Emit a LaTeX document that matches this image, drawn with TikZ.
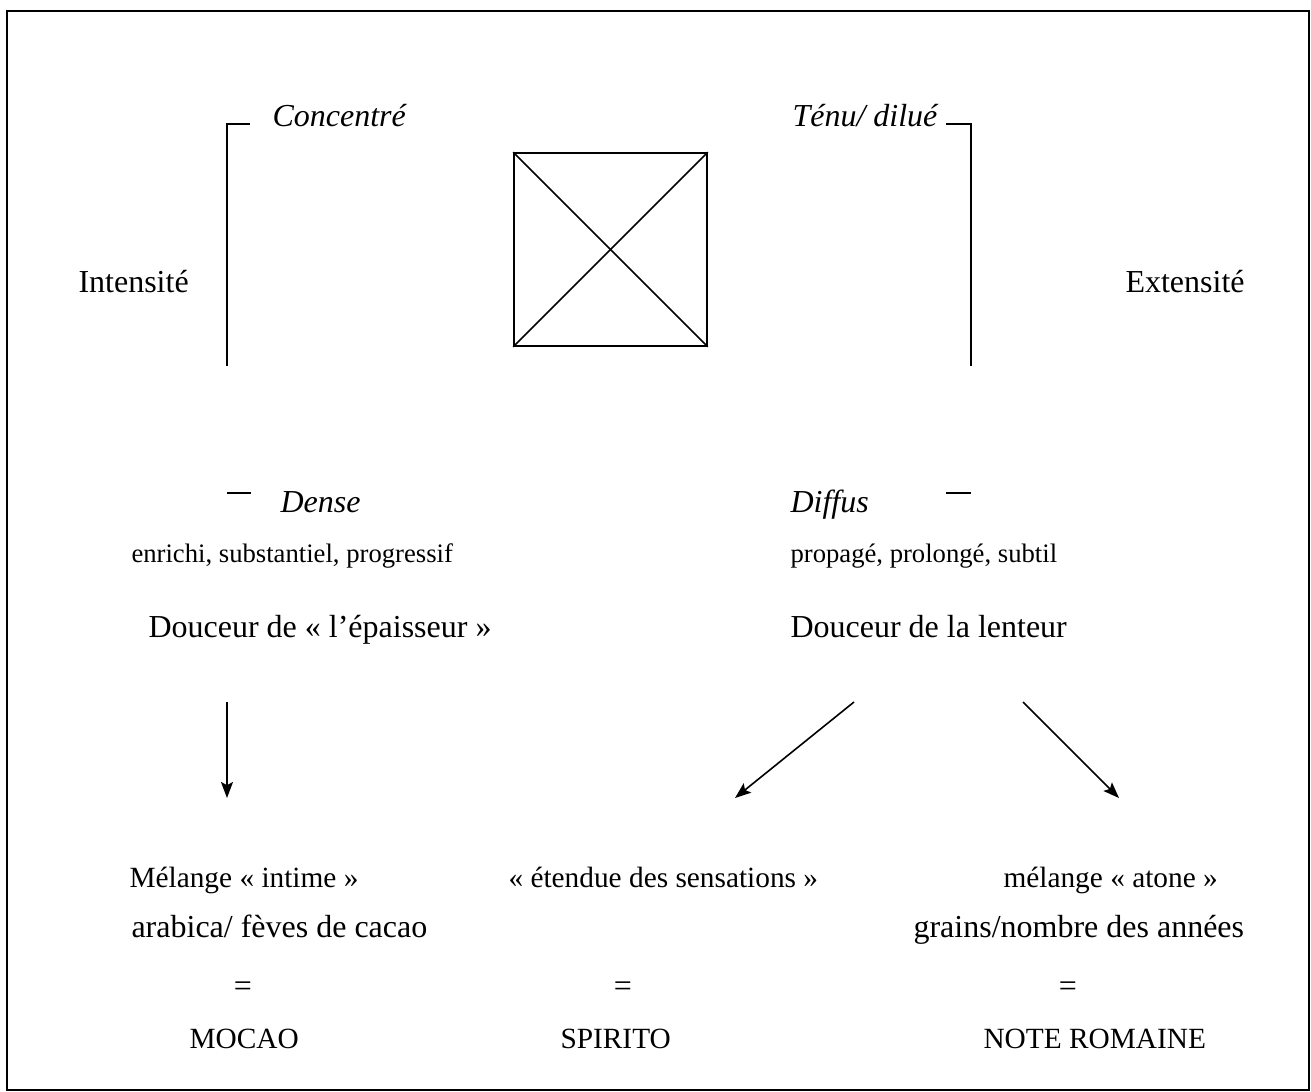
\documentclass[tikz,border=0pt]{standalone}
\usepackage{fontspec}
\setmainfont{Liberation Serif}
\usetikzlibrary{arrows.meta}
\tikzset{
  frame line/.style={draw=black, line width=0.8pt},
  bracket line/.style={draw=black, line width=0.6pt},
  main label/.style={font=\fontsize{12}{14}\selectfont, inner sep=0pt,
    anchor=base west},
  pole label/.style={main label, font=\fontsize{12}{14}\selectfont\itshape},
  small label/.style={main label, font=\fontsize{10}{12}\selectfont},
  mix label/.style={main label, font=\fontsize{11}{13}\selectfont},
  equal label/.style={main label, anchor=base},
  derive arrow/.style={-{Stealth[length=6pt,width=4.5pt,inset=1.2pt]},
    line width=0.6pt}
}

\begin{document}
\begin{tikzpicture}[x=0.375pt, y=-0.375pt]
  \useasboundingbox (0,0) rectangle (1311,1092);
  \draw[frame line] (7,11) rectangle (1309,1090);

  % upper poles
  \node[pole label] (concentre) at (272,126) {Concentré};
  \node[pole label] (tenu) at (792,126) {Ténu/ dilué};
  \draw[bracket line] (250,124) -- (227,124) -- (227,366);
  \draw[bracket line] (946,124) -- (971,124) -- (971,366);
  \node[draw, line width=0.6pt, minimum width=72.4pt, minimum height=72.4pt,
    inner sep=0pt] (tensbox) at (610.5,249.5) {};
  \draw[bracket line] (tensbox.north west) -- (tensbox.south east);
  \draw[bracket line] (tensbox.south west) -- (tensbox.north east);
  \node[main label] (intensite) at (78,292) {Intensité};
  \node[main label] (extensite) at (1125,292) {Extensité};

  % lower poles
  \draw[bracket line] (227,493) -- (251,493);
  \draw[bracket line] (946,493) -- (971,493);
  \node[pole label] (dense) at (280,512) {Dense};
  \node[pole label] (diffus) at (790,512) {Diffus};
  \node[small label] (enrichi) at (131,562) {enrichi, substantiel, progressif};
  \node[small label] (propage) at (790,562) {propagé, prolongé, subtil};
  \node[main label] (epaisseur) at (148,637) {Douceur de «~l’épaisseur~»};
  \node[main label] (lenteur) at (790,637) {Douceur de la lenteur};

  % arrows
  \coordinate (epaisseur out) at (227,702);
  \coordinate (mocao in) at (227,798);
  \coordinate (lenteur outl) at (854,702);
  \coordinate (spirito in) at (735,798);
  \coordinate (lenteur outr) at (1023,702);
  \coordinate (romaine in) at (1119,798);
  \draw[derive arrow] (epaisseur out) -- (mocao in);
  \draw[derive arrow] (lenteur outl) -- (spirito in);
  \draw[derive arrow] (lenteur outr) -- (romaine in);

  % results
  \node[mix label] (intime) at (129,887) {Mélange «~intime~»};
  \node[mix label] (etendue) at (508,887) {«~étendue des sensations~»};
  \node[mix label] (atone) at (1003,887) {mélange «~atone~»};
  \node[main label] (arabica) at (131,937) {arabica/ fèves de cacao};
  \node[main label] (grains) at (913,937) {grains/nombre des années};
  \node[equal label] (eqa) at (243,996) {=};
  \node[equal label] (eqb) at (623,996) {=};
  \node[equal label] (eqc) at (1068,996) {=};
  \node[mix label] (mocao) at (189,1048) {MOCAO};
  \node[mix label] (spirito) at (560,1048) {SPIRITO};
  \node[mix label] (romaine) at (983,1048) {NOTE ROMAINE};
\end{tikzpicture}
\end{document}
